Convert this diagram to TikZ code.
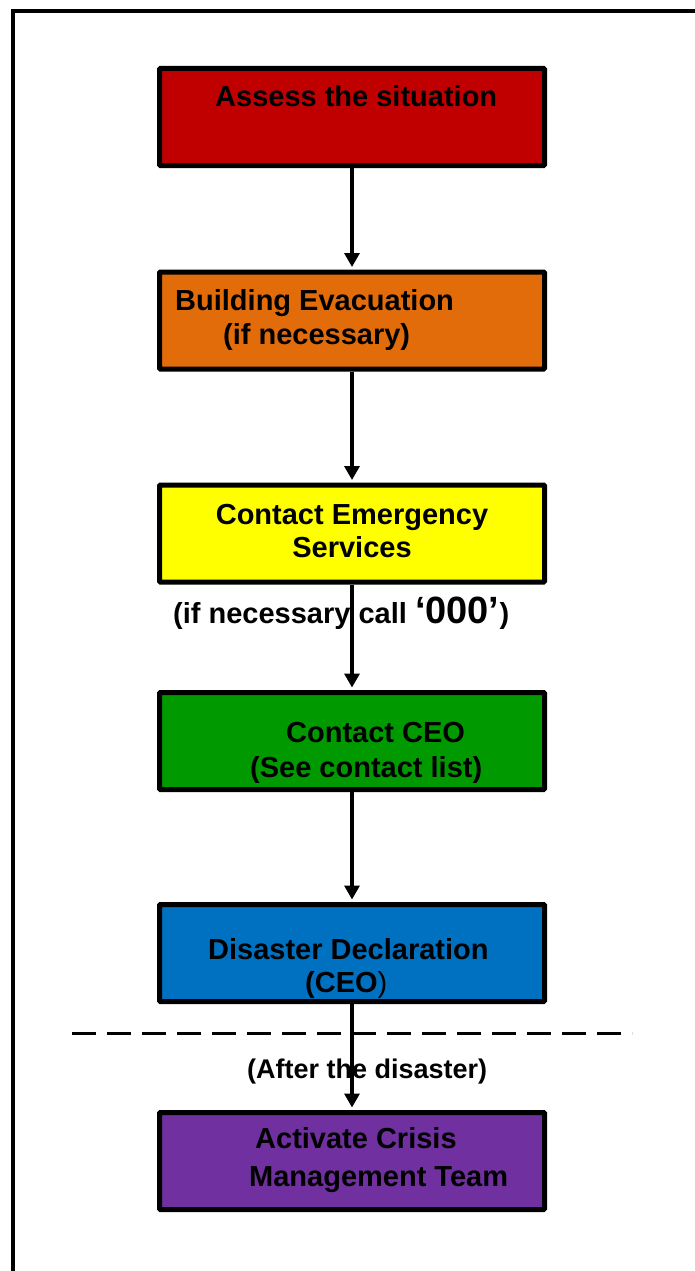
\documentclass[tikz,border=0pt]{standalone}
\usepackage{fontspec}
\setmainfont{Liberation Sans}
\usetikzlibrary{arrows.meta}
\definecolor{cred}{RGB}{192,0,0}
\definecolor{corange}{RGB}{227,108,10}
\definecolor{cyellow}{RGB}{255,255,0}
\definecolor{cgreen}{RGB}{0,153,0}
\definecolor{cblue}{RGB}{0,112,192}
\definecolor{cpurple}{RGB}{112,48,160}
\tikzset{
  stepbox/.style={draw=black, line width=5pt, rounded corners=1pt, minimum width=385pt, minimum height=97pt, inner sep=0pt},
  txt/.style={inner sep=0pt, anchor=base west, font=\fontsize{29}{34}\selectfont\bfseries},
  txtc/.style={inner sep=0pt, anchor=base, font=\fontsize{29}{34}\selectfont\bfseries},
  flow/.style={line width=3.3pt, -{Triangle[width=15pt,length=14pt]}, shorten >=2.5pt},
}
\begin{document}
\begin{tikzpicture}[x=1pt,y=-1pt]
\useasboundingbox (0,0) rectangle (694,1271);
% outer frame (cut at right and bottom)
\draw[line width=4pt] (13,1275) -- (13,10.7) -- (700,10.7);
% boxes
\node[stepbox, fill=cred]    (b1) at (352,117)   {};
\node[stepbox, fill=corange] (b2) at (352,320.5) {};
\node[stepbox, fill=cyellow] (b3) at (352,533.5) {};
\node[stepbox, fill=cgreen]  (b4) at (352,741)   {};
\node[stepbox, fill=cblue]   (b5) at (352,953)   {};
\node[stepbox, fill=cpurple] (b6) at (352,1161)  {};
% texts
\node[txt] (t1) at (215,107) {Assess the situation};
\node[txt] (t2a) at (175,310) {Building Evacuation};
\node[txt] (t2b) at (223,344) {(if necessary)};
\node[txtc] (t3a) at (352,524) {Contact Emergency};
\node[txtc] (t3b) at (352,557) {Services};
\node[txt] (lab) at (173,623) {(if necessary call {\fontsize{38}{40}\selectfont ‘000’})};
\node[txt] (t4a) at (286,742) {Contact CEO};
\node[txt] (t4b) at (250,777) {(See contact list)};
\node[txt] (t5a) at (208,959) {Disaster Declaration};
\node[txt] (t5b) at (305,992) {(CEO\mdseries)};
\node[txt, font=\fontsize{27}{32}\selectfont\bfseries] (dis) at (247,1078) {(After the disaster)};
\node[txt] (t6a) at (255,1148) {Activate Crisis};
\node[txt] (t6b) at (249,1186) {Management Team};
% dashed separator
\coordinate (dl) at (72,1033);
\coordinate (dr) at (632,1033);
\draw[line width=3pt, dash pattern=on 24pt off 11pt] (dl) -- (dr);
% connectors
\draw[flow] (b1.south) -- (b2.north);
\draw[flow] (b2.south) -- (b3.north);
\draw[flow] (b3.south) -- (b4.north);
\draw[flow] (b4.south) -- (b5.north);
\draw[flow] (b5.south) -- (b6.north);
\end{tikzpicture}
\end{document}
